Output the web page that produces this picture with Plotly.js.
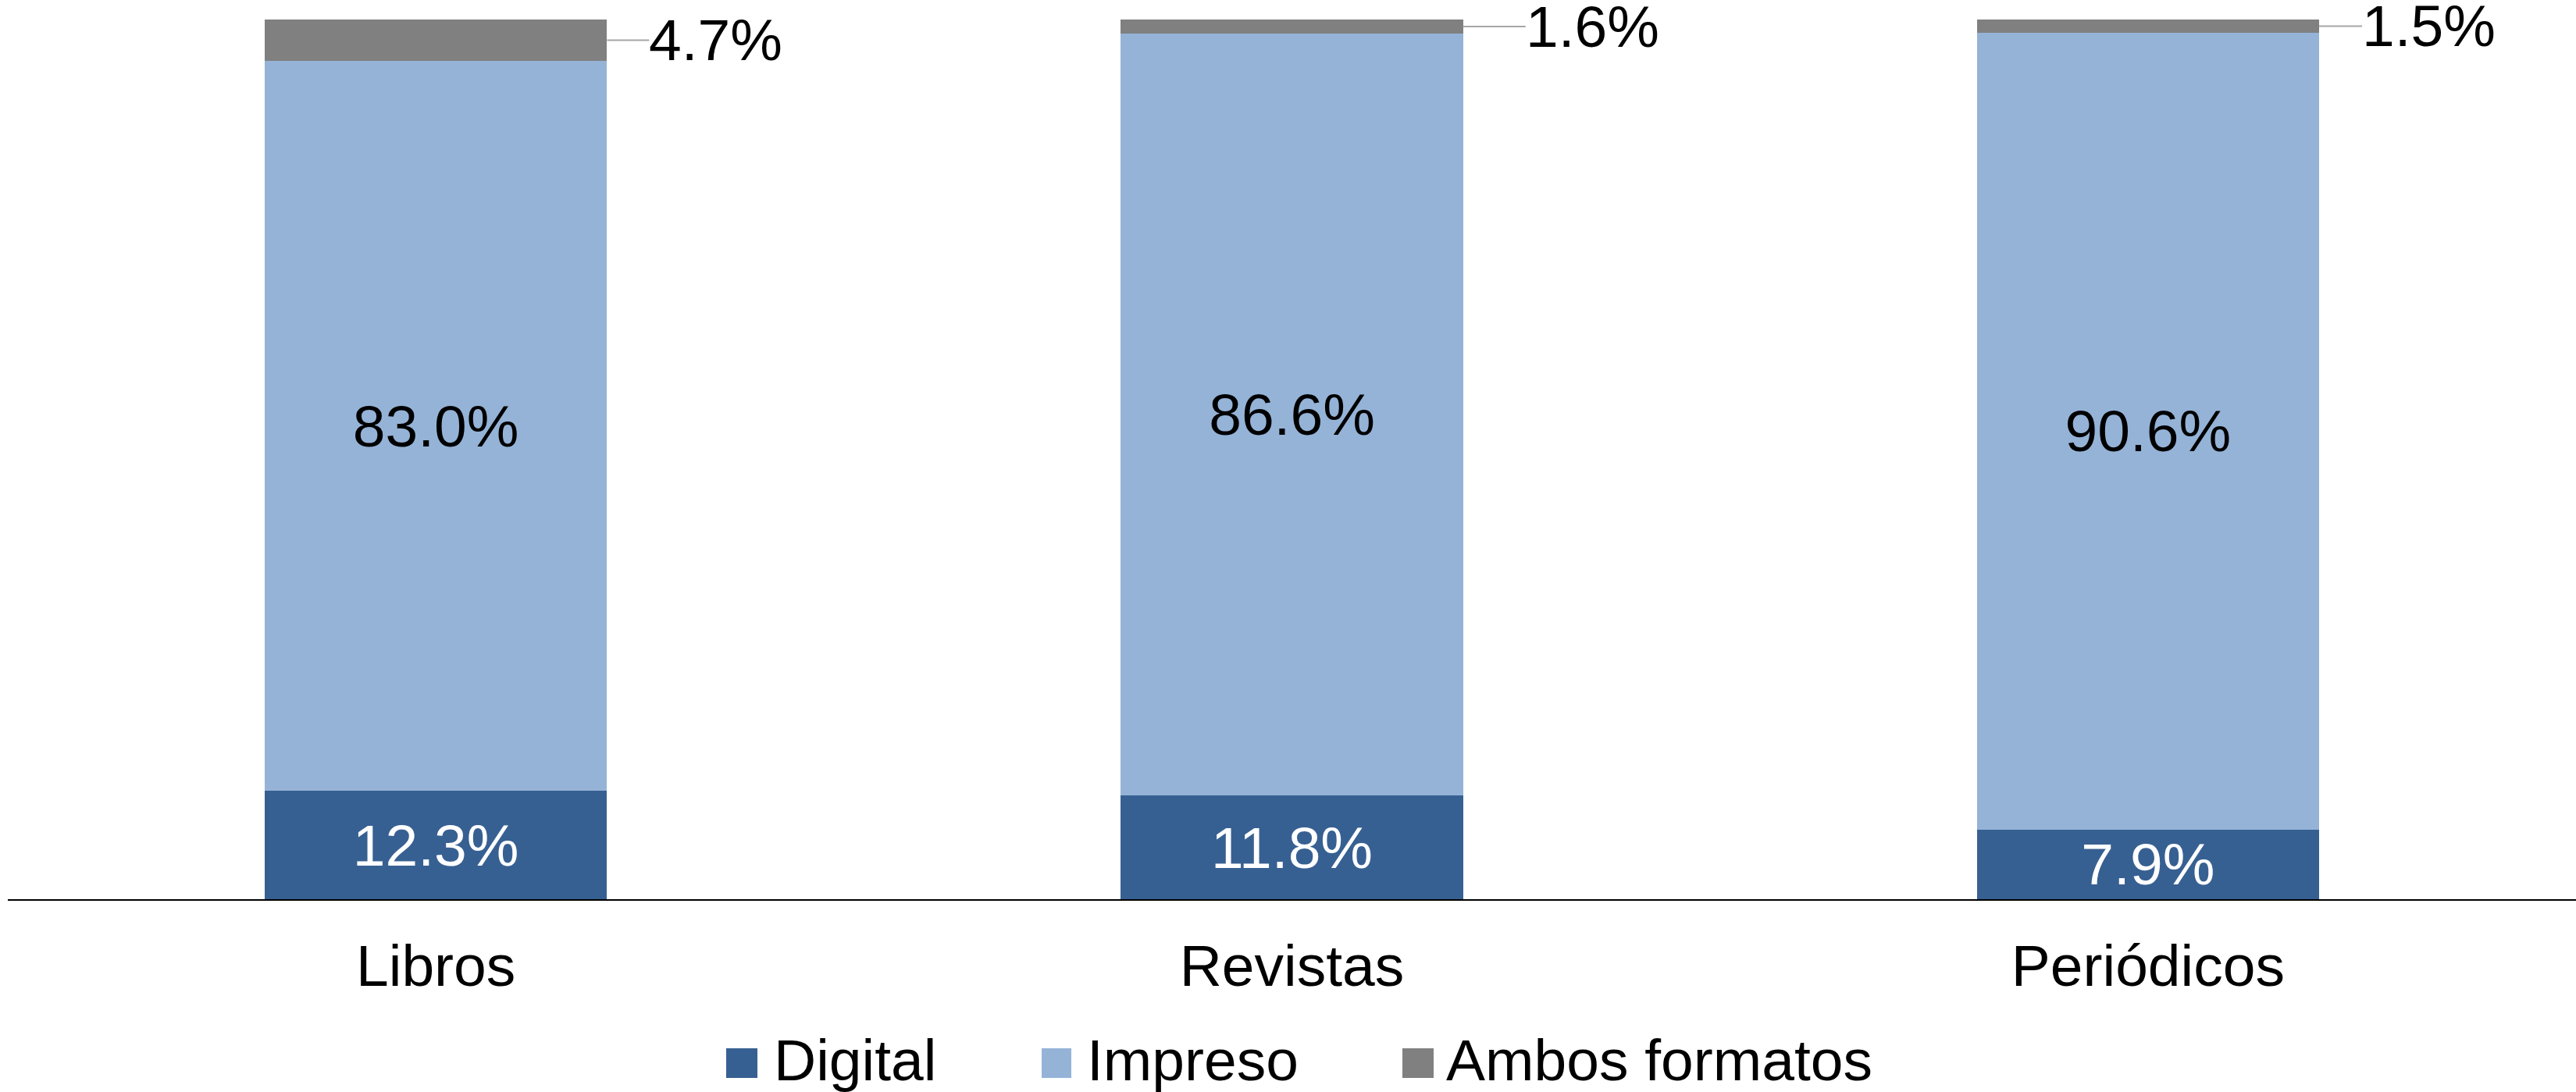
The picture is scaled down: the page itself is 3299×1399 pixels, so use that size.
<!DOCTYPE html>
<html><head><meta charset="utf-8">
<script src="https://cdn.plot.ly/plotly-3.0.1.min.js"></script>
<style>html,body{margin:0;padding:0;background:#fff}#chart{width:3299px;height:1399px}</style>
</head><body><div id="chart"></div>
<script>
const categories = ['Libros', 'Revistas', 'Periódicos'];
const seriesNames = ['Digital', 'Impreso', 'Ambos formatos'];
const digital = [12.3, 11.8, 7.9];
const impreso = [83.0, 86.6, 90.6];
const ambos = [4.7, 1.6, 1.5];

// style
const colors = ['#376092', '#95B3D7', '#808080'];
const FONT = '"Liberation Sans", Arial, sans-serif';
const FS = 75;
const W = 3299, H = 1399;
const M = {l: 10, r: 0, t: 25, b: 247};
const BARGAP = 0.6;
const leaderLen = [54, 80, 55];
function pxX(px) { return (px - M.l) / (W - M.l - M.r); }
function pxY(py) { return (H - M.b - py) / (H - M.t - M.b); }
const fmt = v => v.toFixed(1) + '%';

function barTrace(i, vals, textColor, showText) {
  return {
    type: 'bar', name: seriesNames[i], x: categories, y: vals,
    marker: {color: colors[i], line: {width: 0}},
    text: showText ? vals.map(fmt) : undefined,
    textposition: showText ? 'inside' : 'none',
    insidetextanchor: 'middle', textangle: 0, constraintext: 'none',
    textfont: {family: FONT, size: FS, color: textColor},
    hoverinfo: 'skip'
  };
}
const traces = [
  barTrace(0, digital, '#ffffff', true),
  barTrace(1, impreso, '#000000', true),
  barTrace(2, ambos, '#000000', false)
];

const annotations = [];
categories.forEach((c, i) => {
  annotations.push({
    xref: 'x', yref: 'y',
    x: i + (1 - BARGAP) / 2,
    y: digital[i] + impreso[i] + ambos[i] / 2,
    text: fmt(ambos[i]),
    showarrow: true, arrowhead: 0, arrowwidth: 2, arrowcolor: '#a6a6a6',
    ax: leaderLen[i], ay: 0, xanchor: 'left', yanchor: 'middle',
    borderpad: 0, borderwidth: 0, standoff: 0,
    font: {family: FONT, size: FS, color: '#000000'}
  });
});

// custom legend (large square swatches)
const legendSq = [[930, 970], [1334, 1372], [1796, 1836]];
const legendTextX = [990, 1391, 1851];
const shapes = [];
seriesNames.forEach((n, i) => {
  shapes.push({
    type: 'rect', xref: 'paper', yref: 'paper',
    x0: pxX(legendSq[i][0]), x1: pxX(legendSq[i][1]),
    y0: pxY(1381), y1: pxY(1343),
    fillcolor: colors[i], line: {width: 0}
  });
  annotations.push({
    xref: 'paper', yref: 'paper', x: pxX(legendTextX[i]), y: pxY(1358),
    xanchor: 'left', yanchor: 'middle', showarrow: false, borderpad: 0,
    text: n, font: {family: FONT, size: FS, color: '#000000'}
  });
});

const layout = {
  width: W, height: H,
  margin: M,
  paper_bgcolor: '#ffffff', plot_bgcolor: '#ffffff',
  barmode: 'stack', bargap: BARGAP,
  showlegend: false,
  font: {family: FONT, size: FS, color: '#000000'},
  xaxis: {
    type: 'category', range: [-0.5, 2.5], automargin: false,
    showline: true, linecolor: '#000000', linewidth: 2,
    ticks: '', showgrid: false, zeroline: false,
    tickfont: {family: FONT, size: FS, color: '#000000'},
    ticklabelstandoff: 19
  },
  yaxis: {
    range: [0, 100], automargin: false,
    showline: false, showgrid: false, zeroline: false, showticklabels: false, ticks: ''
  },
  shapes: shapes,
  annotations: annotations
};

Plotly.newPlot('chart', traces, layout, {staticPlot: true, displayModeBar: false});
</script>
</body></html>
